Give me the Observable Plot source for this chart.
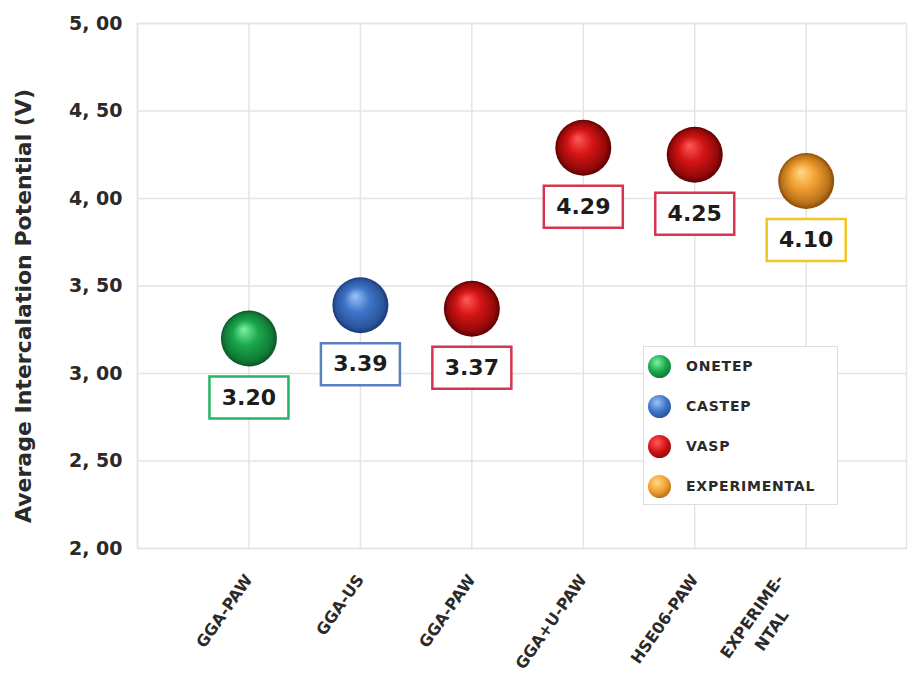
<!DOCTYPE html>
<html>
<head>
<meta charset="utf-8">
<script src="https://cdn.jsdelivr.net/npm/d3@7"></script>
<script src="https://cdn.jsdelivr.net/npm/@observablehq/plot@0.6"></script>
<style>
  body { margin: 0; background: #fff; }
  #chart { position: relative; width: 915px; height: 675px; }
  .legend {
    position: absolute; left: 643px; top: 346px; width: 195px; height: 159px;
    box-sizing: border-box; border: 1px solid #dedede; background: #fff;
    padding: 0 0 0 4px;
    font: bold 14px "DejaVu Sans", sans-serif; color: #2a2a2a; letter-spacing: 0.8px;
  }
  .legend .row { display: flex; align-items: center; height: 40px; }
  .legend .row:first-child { margin-top: -1px; }
  .legend .icon { width: 23px; height: 23px; border-radius: 50%; margin-right: 15px; flex: none; }
</style>
</head>
<body>
<div id="chart"></div>
<script>
// Method / functional used for each calculation
const methods = ["GGA-PAW", "GGA-US", "GGA-PAW", "GGA+U-PAW", "HSE06-PAW", "EXPERIME-\nNTAL"];
// Code that produced each value
const codes = ["ONETEP", "CASTEP", "VASP", "VASP", "VASP", "EXPERIMENTAL"];
// Average intercalation potential (V)
const potentials = [3.20, 3.39, 3.37, 4.29, 4.25, 4.10];
// Y axis ticks
const yTicks = [2.0, 2.5, 3.0, 3.5, 4.0, 4.5, 5.0];
// Legend entries
const legendCodes = ["ONETEP", "CASTEP", "VASP", "EXPERIMENTAL"];

// Sphere shading per code: highlight, body, rim, plus the label box colour
const shades = {
  ONETEP:       { id: "onetep", hl: "#7df2a4", body: "#1aa84c", rim: "#0a5524", box: "#27b463" },
  CASTEP:       { id: "castep", hl: "#9cc2f5", body: "#3f75c9", rim: "#1b3a78", box: "#5b80c2" },
  VASP:         { id: "vasp",   hl: "#ff5a5a", body: "#d41414", rim: "#5c0000", box: "#d7344e" },
  EXPERIMENTAL: { id: "exp",    hl: "#ffd98a", body: "#f2a033", rim: "#8a4a05", box: "#f2c523" }
};

const data = potentials.map((value, i) => ({ pos: i + 1, method: methods[i], code: codes[i], value }));
// Single-line category names go through the axis; the wrapped one is drawn centred per line
const singleLine = data.filter(d => !d.method.includes("\n"));
const multiLine = data.filter(d => d.method.includes("\n"));

// Radial gradients that give the dots their 3D sphere look
function sphereDefs() {
  const defs = d3.create("svg:defs");
  for (const key of legendCodes) {
    const s = shades[key];
    const g = defs.append("radialGradient")
      .attr("id", `sphere-${s.id}`)
      .attr("cx", "50%").attr("cy", "50%").attr("r", "50%")
      .attr("fx", "40%").attr("fy", "33%");
    g.append("stop").attr("offset", "0%").attr("stop-color", s.hl);
    g.append("stop").attr("offset", "45%").attr("stop-color", s.body);
    g.append("stop").attr("offset", "85%").attr("stop-color", d3.interpolateRgb(s.body, s.rim)(0.55));
    g.append("stop").attr("offset", "100%").attr("stop-color", s.rim);
  }
  return defs.node();
}

// Framed label box drawn beneath each sphere
const valueBox = { draw(ctx) { ctx.rect(-39.5, 38, 79, 42); } };

const labelStyle = { fontWeight: "bold", fill: "#2a2a2a" };

const chart = Plot.plot({
  width: 915,
  height: 675,
  marginLeft: 137,
  marginRight: 9,
  marginTop: 23,
  marginBottom: 127,
  x: { domain: [0, 6.9], axis: null },
  y: { domain: [2, 5], axis: null },
  color: { type: "identity" },
  style: { background: "#fff", fontFamily: "DejaVu Sans, sans-serif" },
  marks: [
    sphereDefs,
    Plot.gridY(yTicks, { stroke: "#e4e4e4", strokeOpacity: 1, strokeWidth: 1.5 }),
    Plot.gridX(d3.range(0, 7), { stroke: "#e4e4e4", strokeOpacity: 1, strokeWidth: 1.5 }),
    Plot.frame({ stroke: "#e4e4e4", strokeWidth: 1.5 }),
    Plot.axisY(yTicks, {
      tickSize: 0, tickPadding: 15, label: null,
      tickFormat: d => d.toFixed(2).replace(".", ", "),
      fontSize: 19, ...labelStyle
    }),
    Plot.axisX(singleLine.map(d => d.pos), {
      tickSize: 0, tickPadding: 28, tickRotate: -55, label: null,
      tickFormat: p => methods[p - 1],
      fontSize: 16, ...labelStyle
    }),
    Plot.text(multiLine, {
      x: "pos", frameAnchor: "bottom", text: "method",
      rotate: -55, textAnchor: "middle", lineHeight: 1.5,
      dx: -30, dy: 85,
      fontSize: 16, ...labelStyle
    }),
    Plot.text(["Average Intercalation Potential (V)"], {
      frameAnchor: "left", rotate: -90, textAnchor: "middle", dx: -114, dy: 20,
      fontSize: 22, ...labelStyle
    }),
    Plot.dot(data, {
      x: "pos", y: "value", r: 28,
      fill: d => `url(#sphere-${shades[d.code].id})`
    }),
    Plot.dot(data, {
      x: "pos", y: "value", symbol: valueBox,
      fill: "white", stroke: d => shades[d.code].box, strokeWidth: 2.5
    }),
    Plot.text(data, {
      x: "pos", y: "value", dy: 59,
      text: d => d.value.toFixed(2),
      fontSize: 22, fontWeight: "bold", fill: "#1c1c1c"
    })
  ]
});

const root = document.getElementById("chart");
root.append(chart);

// Legend box in the lower right of the plot
const legend = document.createElement("div");
legend.className = "legend";
for (const key of legendCodes) {
  const s = shades[key];
  const row = document.createElement("div");
  row.className = "row";
  const icon = document.createElement("span");
  icon.className = "icon";
  icon.style.background = `radial-gradient(circle at 40% 33%, ${s.hl} 0%, ${s.body} 45%, ${s.rim} 100%)`;
  const label = document.createElement("span");
  label.textContent = key;
  row.append(icon, label);
  legend.append(row);
}
root.append(legend);
</script>
</body>
</html>
